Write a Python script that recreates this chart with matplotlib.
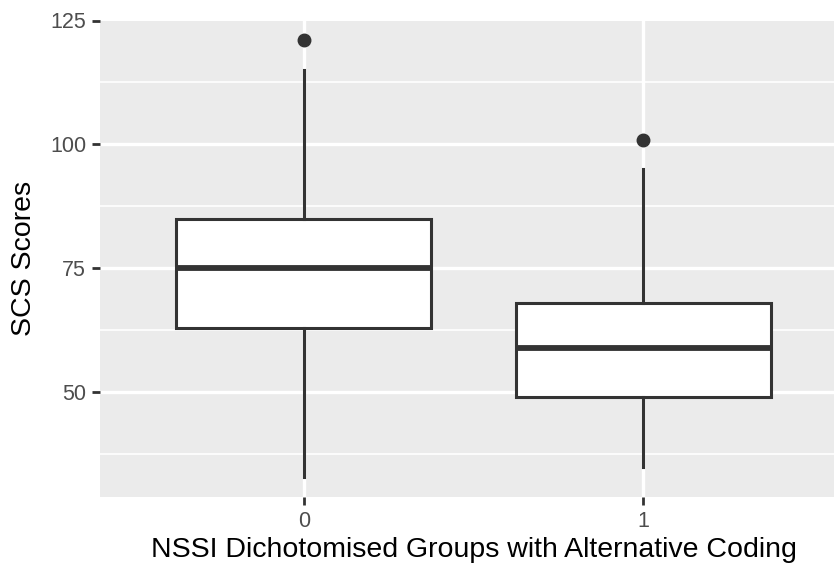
import matplotlib
matplotlib.use("Agg")
import matplotlib.pyplot as plt
from matplotlib.ticker import MultipleLocator

plt.rcParams["font.family"] = ["Liberation Sans", "DejaVu Sans"]

# summary values
groups = ["0", "1"]
q1 = [63, 49]
med = [75, 59]
q3 = [85, 68]
whislo = [33, 35]
whishi = [115, 95]
fliers = [[121], [101]]

stats = []
for i in range(len(groups)):
    stats.append(dict(label=groups[i], q1=q1[i], med=med[i], q3=q3[i],
                      whislo=whislo[i], whishi=whishi[i], fliers=fliers[i]))

W, H = 834, 569
fig = plt.figure(figsize=(W / 100, H / 100), dpi=100)
# panel is cut off at the right edge in the reference
ax = fig.add_axes([100 / W, 1 - 497 / H, 747 / W, 476.5 / H])
ax.set_facecolor("#EBEBEB")

dark = "#333333"
ax.bxp(stats, positions=range(len(groups)), widths=0.75, patch_artist=True,
       showcaps=False,
       boxprops=dict(facecolor="white", edgecolor=dark, linewidth=2.2),
       medianprops=dict(color=dark, linewidth=4.2),
       whiskerprops=dict(color=dark, linewidth=2.2),
       flierprops=dict(marker="o", markerfacecolor=dark, markeredgecolor=dark,
                       markersize=9))

ax.set_xlim(-0.6, len(groups) - 1 + 0.6)
ax.set_ylim(28.9, 125.0)
ax.set_xticks(range(len(groups)))
ax.set_xticklabels(groups)
ax.yaxis.set_major_locator(MultipleLocator(25))
ax.yaxis.set_minor_locator(MultipleLocator(12.5))

ax.grid(which="major", color="white", linewidth=2.4)
ax.grid(which="minor", axis="y", color="white", linewidth=1.2)
ax.set_axisbelow(True)
for s in ax.spines.values():
    s.set_visible(False)

ax.tick_params(axis="both", which="major", length=6, width=2, color=dark,
               labelsize=15.5, labelcolor="#4D4D4D", pad=4)
ax.tick_params(axis="y", which="minor", length=0)

ax.set_xlabel("NSSI Dichotomised Groups with Alternative Coding",
              fontsize=20.5, color="black", labelpad=4)
ax.set_ylabel("SCS Scores", fontsize=20.5, color="black", labelpad=9)

# the top tick sits on the panel edge: keep its mark, drop its grid line
fig.canvas.draw()
for t in ax.yaxis.get_major_ticks():
    if abs(t.get_loc() - 125) < 1e-6:
        t.gridline.set_visible(False)

fig.savefig("out.png", dpi=100)
